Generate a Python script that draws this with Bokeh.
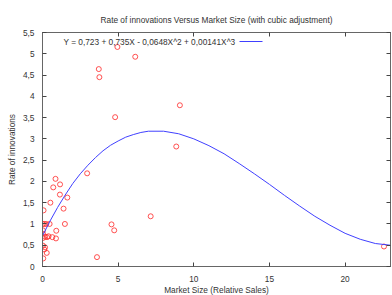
from bokeh.plotting import figure
from bokeh.models import (Range1d, LinearAxis, SingleIntervalTicker, CustomJSTickFormatter,
                          Label, Arrow, ColumnDataSource)
from bokeh.embed import file_html
from bokeh.resources import INLINE

# Scatter data: market size (relative sales) vs rate of innovations
market_size = [0.05, 0.28, 0.12, 0.03, 0.17,
               0.03, 0.17, 0.30, 0.40, 0.65, 0.89,
               0.03, 0.03, 0.91,
               0.03, 0.13, 0.25, 0.47, 1.48,
               0.07, 0.52, 1.39, 1.64, 1.15, 0.71, 1.16, 0.86,
               2.95, 3.60, 4.56, 4.74, 4.80, 3.72, 3.76, 4.95, 6.13,
               7.15, 8.84, 9.08, 22.57]
innovation_rate = [0.19, 0.32, 0.40, 0.49, 0.45,
                   0.67, 0.70, 0.69, 0.71, 0.69, 0.66,
                   0.77, 0.85, 0.84,
                   1.00, 1.00, 1.00, 1.00, 1.00,
                   1.32, 1.50, 1.36, 1.62, 1.69, 1.86, 1.93, 2.06,
                   2.19, 0.22, 0.99, 0.85, 3.51, 4.64, 4.45, 5.16, 4.93,
                   1.18, 2.82, 3.79, 0.47]

# Cubic fit curve
fit_x = [0, 0.5, 1, 1.5, 2, 2.5, 3, 3.5, 4, 4.5, 5, 5.5, 6, 6.5, 7, 8, 9, 10, 11,
         12, 13, 14, 15, 16, 17, 18, 19, 20, 21, 22, 23]
fit_y = [0.72, 1.07, 1.39, 1.68, 1.95, 2.18, 2.38, 2.56, 2.72, 2.85, 2.95, 3.04,
         3.10, 3.15, 3.18, 3.18, 3.12, 3.00, 2.84, 2.65, 2.42, 2.18, 1.93, 1.67,
         1.42, 1.18, 0.97, 0.78, 0.64, 0.54, 0.50]

title_text = "Rate of innovations Versus Market Size (with cubic adjustment)"
legend_text = "Y = 0,723 + 0,735X - 0,0648X^2 + 0,00141X^3"
x_label = "Market Size (Relative Sales)"
y_label = "Rate of innovations"

FONT = "Liberation Sans"
FS = "8.3px"
TXT = "#333333"
AX = "#666666"

p = figure(frame_width=348, frame_height=234, output_backend="svg", toolbar_location=None,
           x_range=Range1d(0, 23), y_range=Range1d(0, 5.5),
           x_axis_location=None, y_axis_location=None,
           min_border_left=42, min_border_right=2, min_border_top=32, min_border_bottom=0)
p.grid.visible = False
p.outline_line_color = AX
p.background_fill_color = "white"
p.border_fill_color = "white"

p.title.text = title_text
p.title.text_font = FONT
p.title.text_font_size = FS
p.title.text_font_style = "normal"
p.title.text_color = TXT
p.title.align = "center"
p.title.standoff = 8

fmt = CustomJSTickFormatter(code="return String(tick).replace('.', ',');")
blank = CustomJSTickFormatter(code="return '';")

def style(ax, labels=True):
    ax.major_tick_in = 4
    ax.major_tick_out = 0
    ax.minor_tick_line_color = None
    ax.axis_line_color = AX
    ax.major_tick_line_color = "#444444"
    ax.major_label_text_font = FONT
    ax.major_label_text_font_size = FS
    ax.major_label_text_color = TXT
    ax.axis_label_text_font = FONT
    ax.axis_label_text_font_size = FS
    ax.axis_label_text_font_style = "normal"
    ax.axis_label_text_color = TXT
    if not labels:
        ax.major_label_standoff = 0
        ax.axis_label_standoff = 0

xb = LinearAxis(ticker=SingleIntervalTicker(interval=5), formatter=fmt, axis_label=x_label)
style(xb)
xb.major_label_standoff = 5
xb.axis_label_standoff = 0
p.add_layout(xb, "below")

yl = LinearAxis(ticker=SingleIntervalTicker(interval=0.5), formatter=fmt, axis_label=y_label)
style(yl)
yl.major_label_standoff = 4
yl.axis_label_standoff = 3
p.add_layout(yl, "left")

xt = LinearAxis(ticker=SingleIntervalTicker(interval=5), formatter=blank)
style(xt, labels=False)
p.add_layout(xt, "above")

yr = LinearAxis(ticker=SingleIntervalTicker(interval=0.5), formatter=blank)
style(yr, labels=False)
p.add_layout(yr, "right")

src = ColumnDataSource(dict(x=market_size, y=innovation_rate))
p.scatter("x", "y", source=src, size=5, marker="circle", fill_color=None,
          line_color="#ff2828", line_width=1, line_alpha=0.8)

p.line(fit_x, fit_y, line_color="#4040ff", line_width=1)

p.add_layout(Label(x=21, y=225, x_units="screen", y_units="screen", text=legend_text,
                   text_font=FONT, text_font_size=FS, text_color=TXT,
                   text_baseline="middle"))
p.add_layout(Arrow(x_start=197, y_start=225, x_end=220, y_end=225,
                   start_units="screen", end_units="screen", start=None, end=None,
                   line_color="#4040ff", line_width=1))

open("out.html", "w").write(file_html(p, INLINE))
